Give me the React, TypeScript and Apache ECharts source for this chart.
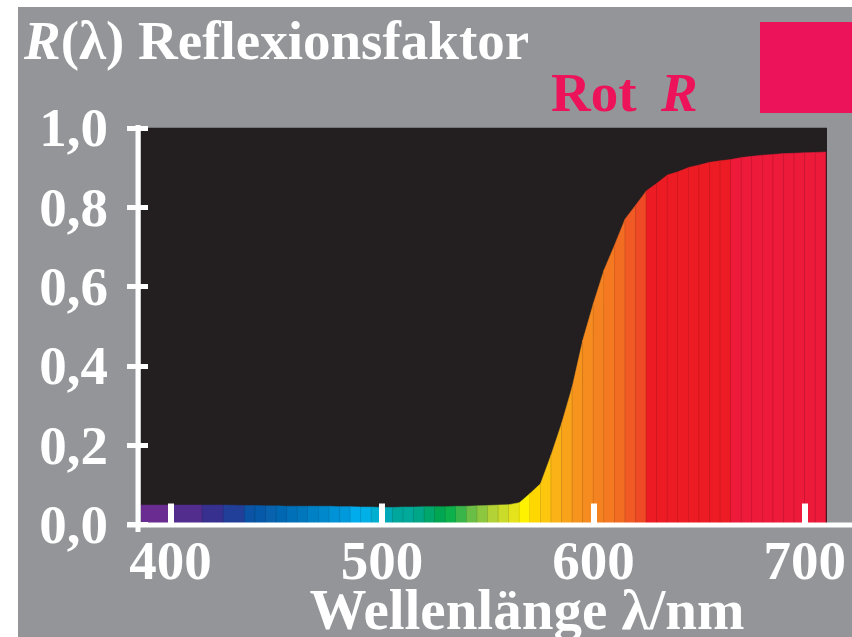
import React, { useEffect, useRef } from "react";
import * as echarts from "echarts";

// band boundaries (nm)
const wavelengths = [
  386, 400, 415, 425, 435, 440, 445, 450, 455, 460, 465, 470, 475, 480, 485, 490, 495, 500,
  505, 510, 515, 520, 525, 530, 535, 540, 545, 550, 555, 560, 565, 570, 575, 580, 585, 590,
  595, 600, 605, 610, 615, 620, 625, 630, 635, 640, 645, 650, 655, 660, 665, 670, 675, 680,
  685, 690, 695, 700, 705, 710,
];

// reflectance at each boundary
const reflectance = [
  0.049, 0.049, 0.049, 0.049, 0.048, 0.048, 0.047, 0.047, 0.046, 0.046, 0.046, 0.046, 0.046,
  0.045, 0.045, 0.044, 0.044, 0.043, 0.043, 0.044, 0.044, 0.045, 0.045, 0.045, 0.046, 0.046,
  0.047, 0.048, 0.049, 0.05, 0.055, 0.078, 0.103, 0.175, 0.255, 0.347, 0.465, 0.557, 0.641,
  0.704, 0.77, 0.805, 0.841, 0.86, 0.881, 0.889, 0.9, 0.906, 0.913, 0.917, 0.92, 0.925, 0.928,
  0.931, 0.933, 0.935, 0.936, 0.937, 0.938, 0.939,
];

// colour of each band
const bandColors = [
  "#6a2c90", "#532d8e", "#37308e", "#213f99",
  "#0b53a4", "#0559a8", "#0862ae", "#0068b3", "#0070b8", "#0076bd", "#0080c5", "#0088cc",
  "#0092d6", "#0099db", "#00acec", "#00b0e6", "#00aed0", "#00a9b7", "#00a79d", "#00a99a",
  "#00a688", "#00a76d", "#00a651", "#0db14b", "#39b54a", "#6abd45", "#8dc63f", "#b2d235",
  "#cbdb2a", "#e5e31c", "#fff200", "#ffd700", "#fdc70f", "#fbb217", "#f9a31b", "#f7941d",
  "#f68b1f", "#f58220", "#f47920", "#f26c22", "#f15a24", "#ef4a25",
  "#ed1c24", "#ed1c24", "#ed1c24", "#ed1c24", "#ed1c24", "#ed1c24", "#ed1c24", "#ed1c24",
  "#ed1a3a", "#ed1a3a", "#ed1a3a", "#ed1a3a", "#ed1a3a", "#ed1a3a", "#ed1a3a", "#ed1a3a", "#ed1a3a",
];

const xTicks = [400, 500, 600, 700];
const yMin = 0;
const yMax = 1;
const yStep = 0.2;

const serif = "'Liberation Serif', 'Times New Roman', serif";
const pink = "#ed135a";

export default function App() {
  const ref = useRef<HTMLDivElement>(null);

  useEffect(() => {
    document.body.style.margin = "0";
    const chart = echarts.init(ref.current!, null, { renderer: "svg", width: 852, height: 637 });
    const bands = bandColors.map((c, i) => [
      wavelengths[i],
      wavelengths[i + 1],
      reflectance[i],
      reflectance[i + 1],
      i,
    ]);

    chart.setOption({
      animation: false,
      backgroundColor: "#939598",
      grid: {
        left: 141,
        right: 852 - 827,
        top: 127.8,
        bottom: 637 - 524.5,
        show: true,
        backgroundColor: "#231f20",
        borderWidth: 0,
      },
      xAxis: {
        type: "value",
        min: 386,
        max: 710.5,
        position: "bottom",
        offset: 7.5,
        z: 10,
        axisLine: { show: false },
        splitLine: { show: false },
        axisTick: {
          show: true,
          inside: true,
          length: 21,
          customValues: xTicks,
          lineStyle: { color: "#ffffff", width: 6 },
        },
        axisLabel: {
          customValues: xTicks,
          color: "#ffffff",
          fontFamily: serif,
          fontWeight: "bold",
          fontSize: 55,
          margin: 28,
          verticalAlign: "middle",
        },
      },
      yAxis: {
        type: "value",
        min: yMin,
        max: yMax,
        interval: yStep,
        position: "left",
        offset: 14,
        z: 10,
        axisLine: { show: false },
        splitLine: { show: false },
        axisTick: {
          show: true,
          inside: true,
          length: 21,
          lineStyle: { color: "#ffffff", width: 5 },
        },
        axisLabel: {
          color: "#ffffff",
          fontFamily: serif,
          fontWeight: "bold",
          fontSize: 55,
          margin: 19,
          formatter: (v: number) => v.toFixed(1).replace(".", ","),
        },
      },
      series: [
        {
          type: "custom",
          clip: true,
          encode: { x: [0, 1], y: [2, 3] },
          data: bands,
          renderItem: (params: any, api: any) => {
            const x0 = api.value(0);
            const x1 = api.value(1);
            const y0 = api.value(2);
            const y1 = api.value(3);
            const idx = api.value(4);
            const b0 = api.coord([x0, 0]);
            const t0 = api.coord([x0, y0]);
            const t1 = api.coord([x1, y1]);
            const b1 = api.coord([x1, 0]);
            const col = bandColors[idx];
            return {
              type: "group",
              children: [
                {
                  type: "polygon",
                  shape: { points: [b0, t0, t1, b1] },
                  style: { fill: col, stroke: col, lineWidth: 0.5 },
                },
                {
                  type: "line",
                  shape: { x1: b1[0], y1: b1[1], x2: t1[0], y2: t1[1] },
                  style: { stroke: "rgba(0,0,0,0.22)", lineWidth: 1 },
                },
              ],
            };
          },
        },
      ],
      graphic: [
        { type: "rect", z: 50, shape: { x: 0, y: 0, width: 18, height: 637 }, style: { fill: "#ffffff" } },
        { type: "rect", z: 50, shape: { x: 0, y: 0, width: 852, height: 7 }, style: { fill: "#ffffff" } },
        { type: "rect", z: 20, shape: { x: 127, y: 522.5, width: 725, height: 5 }, style: { fill: "#ffffff" } },
        { type: "rect", z: 20, shape: { x: 135.5, y: 125, width: 5, height: 407 }, style: { fill: "#ffffff" } },
        { type: "rect", z: 20, shape: { x: 760, y: 22, width: 92, height: 91 }, style: { fill: pink } },
        {
          type: "text",
          z: 20,
          x: 24,
          y: 40,
          style: {
            text: "{i|R}(λ) Reflexionsfaktor",
            fill: "#ffffff",
            fontFamily: serif,
            fontWeight: "bold",
            fontSize: 55,
            verticalAlign: "middle",
            rich: {
              i: { fontStyle: "italic", fontFamily: serif, fontWeight: "bold", fontSize: 55, fill: "#ffffff" },
            },
          },
        },
        {
          type: "text",
          z: 20,
          x: 551,
          y: 92,
          style: {
            text: "Rot",
            fill: pink,
            fontFamily: serif,
            fontWeight: "bold",
            fontSize: 55,
            verticalAlign: "middle",
          },
        },
        {
          type: "text",
          z: 20,
          x: 661,
          y: 92,
          style: {
            text: "R",
            fill: pink,
            fontFamily: serif,
            fontWeight: "bold",
            fontStyle: "italic",
            fontSize: 55,
            verticalAlign: "middle",
          },
        },
        {
          type: "text",
          z: 20,
          x: 527,
          y: 609,
          style: {
            text: "Wellenlänge λ/nm",
            fill: "#ffffff",
            fontFamily: serif,
            fontWeight: "bold",
            fontSize: 57,
            align: "center",
            verticalAlign: "middle",
          },
        },
      ],
    });

    return () => chart.dispose();
  }, []);

  return (
    <div
      ref={ref}
      style={{ position: "absolute", left: 0, top: 0, width: 852, height: 637 }}
    />
  );
}
